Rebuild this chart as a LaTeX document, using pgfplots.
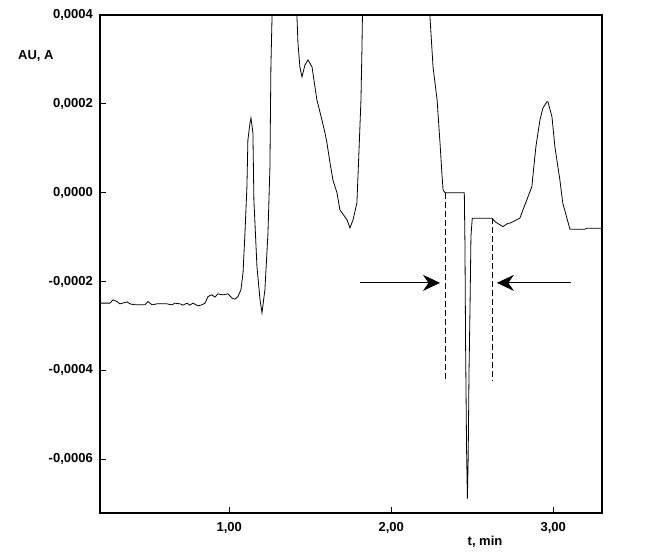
\documentclass[border=0pt]{standalone}
\usepackage{fontspec}
\setmainfont{Liberation Sans}
\usepackage{pgfplots}
\pgfplotsset{compat=1.18}
\usetikzlibrary{arrows.meta}
\begin{document}
\begin{tikzpicture}[font=\fontsize{13bp}{15bp}\selectfont\bfseries]
\begin{axis}[
  scale only axis,
  width=502bp, height=498bp,
  xmin=0.202, xmax=3.301,
  ymin=-0.000721, ymax=0.0004,
  axis line style={line width=1.1bp},
  major tick style={line width=1.1bp, black},
  major tick length=6bp,
  xtick pos=bottom, ytick pos=left,
  xtick={1,2,3},
  xticklabels={{1,00},{2,00},{3,00}},
  ytick={-0.0006,-0.0004,-0.0002,0,0.0002,0.0004},
  yticklabels={{-0,0006},{-0,0004},{-0,0002},{0,0000},{0,0002},{0,0004}},
  scaled y ticks=false, scaled x ticks=false,
  xticklabel style={inner sep=0pt, yshift=-9bp},
  yticklabel style={inner sep=0pt, xshift=-7bp},
  clip=true,
]
\addplot[black, line width=0.8bp] coordinates {
(0.202,-2.486e-4) (0.264,-2.486e-4) (0.282,-2.412e-4) (0.307,-2.450e-4) (0.325,-2.502e-4)
(0.356,-2.472e-4) (0.369,-2.457e-4) (0.387,-2.502e-4) (0.418,-2.524e-4) (0.480,-2.524e-4)
(0.498,-2.450e-4) (0.523,-2.524e-4) (0.554,-2.502e-4) (0.615,-2.502e-4) (0.646,-2.524e-4)
(0.665,-2.486e-4) (0.696,-2.502e-4) (0.714,-2.531e-4) (0.739,-2.486e-4) (0.757,-2.531e-4)
(0.776,-2.486e-4) (0.807,-2.547e-4) (0.831,-2.524e-4) (0.850,-2.486e-4) (0.869,-2.337e-4)
(0.893,-2.299e-4) (0.912,-2.351e-4) (0.930,-2.277e-4) (0.961,-2.299e-4) (0.992,-2.277e-4)
(1.017,-2.373e-4) (1.035,-2.396e-4) (1.054,-2.337e-4) (1.072,-2.187e-4) (1.085,-1.804e-4)
(1.097,-0.904e-4) (1.109,0.130e-4) (1.115,1.188e-4) (1.128,1.570e-4) (1.134,1.683e-4)
(1.146,1.345e-4) (1.152,-0.162e-4) (1.171,-1.669e-4) (1.190,-2.412e-4) (1.202,-2.704e-4)
(1.220,-2.187e-4) (1.239,-0.904e-4) (1.251,0.580e-4) (1.257,2.830e-4) (1.264,3.955e-4)
(1.270,6.5e-4) (1.340,9.0e-4) (1.410,6.0e-4)
(1.418,3.955e-4) (1.424,3.370e-4) (1.436,2.830e-4) (1.449,2.606e-4) (1.467,2.875e-4)
(1.486,2.988e-4) (1.511,2.830e-4) (1.529,2.380e-4) (1.541,2.088e-4) (1.572,1.638e-4)
(1.591,1.345e-4) (1.603,1.120e-4) (1.622,0.670e-4) (1.640,0.288e-4) (1.665,-0.004e-4)
(1.683,-0.387e-4) (1.714,-0.544e-4) (1.727,-0.612e-4) (1.745,-0.792e-4) (1.764,-0.612e-4)
(1.788,-0.229e-4) (1.801,0.963e-4) (1.813,2.088e-4) (1.819,3.213e-4) (1.822,3.955e-4)
(1.826,6.0e-4) (2.000,10.0e-4) (2.232,6.0e-4)
(2.239,3.955e-4) (2.258,2.830e-4) (2.283,2.088e-4) (2.301,1.120e-4) (2.314,0.355e-4)
(2.320,0.063e-4) (2.332,0) (2.451,0) (2.455,-1.174e-4) (2.459,-3.462e-4)
(2.465,-5.786e-4) (2.470,-6.889e-4) (2.475,-5.937e-4) (2.480,-4.058e-4) (2.486,-2.645e-4)
(2.492,-0.988e-4) (2.500,-0.574e-4) (2.623,-0.574e-4) (2.640,-0.650e-4) (2.671,-0.724e-4)
(2.689,-0.763e-4) (2.722,-0.686e-4) (2.733,-0.686e-4) (2.794,-0.574e-4) (2.813,-0.387e-4)
(2.837,-0.162e-4) (2.868,0.137e-4) (2.874,0.362e-4) (2.893,1.037e-4) (2.918,1.638e-4)
(2.936,1.901e-4) (2.961,2.049e-4) (2.967,2.049e-4) (2.992,1.712e-4) (3.010,1.037e-4)
(3.041,0.288e-4) (3.059,-0.236e-4) (3.103,-0.821e-4) (3.196,-0.821e-4) (3.208,-0.799e-4)
(3.301,-0.799e-4)
};
\draw[black, line width=0.8bp, dash pattern=on 6bp off 3bp] (axis cs:2.332,0) -- (axis cs:2.332,-4.21e-4);
\draw[black, line width=0.8bp, dash pattern=on 6bp off 3bp] (axis cs:2.623,-0.574e-4) -- (axis cs:2.623,-4.23e-4);
\draw[black, line width=0.8bp, -{Stealth[length=17bp,width=16bp]}] (axis cs:1.807,-2.03e-4) -- (axis cs:2.301,-2.03e-4);
\draw[black, line width=0.8bp, -{Stealth[length=17bp,width=16bp]}] (axis cs:3.109,-2.03e-4) -- (axis cs:2.652,-2.03e-4);
\end{axis}
\node[anchor=west, inner sep=0pt] at ([xshift=-82bp,yshift=-41bp]current axis.north west) {AU, A};
\node[inner sep=0pt] at ([xshift=385bp,yshift=-28.5bp]current axis.south west) {t, min};
\path ([xshift=-100bp,yshift=-42bp]current axis.south west) rectangle ([xshift=555bp,yshift=513bp]current axis.south west);
\end{tikzpicture}
\end{document}
